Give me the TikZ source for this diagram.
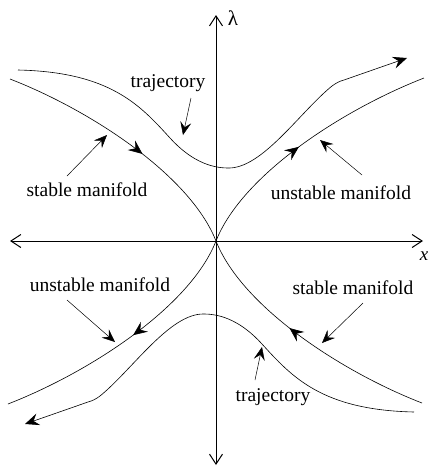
\documentclass[tikz,border=0pt]{standalone}
\usepackage{fontspec}
\setmainfont{Liberation Serif}
\usetikzlibrary{arrows.meta, calc, decorations.markings}

\begin{document}
\begin{tikzpicture}[
    x=1pt, y=-1pt,
    axis/.style={line width=0.8pt, {Straight Barb[length=10pt,width=13pt,line width=1pt]}-{Straight Barb[length=10pt,width=13pt,line width=1pt]}},
    curve/.style={line width=0.6pt},
    tip/.style={-{Stealth[length=14pt,width=12pt,inset=5pt]}},
    flow/.style={decoration={markings, mark=at position #1 with {\arrow{Stealth[length=14pt,width=12pt,inset=5pt]}}}, postaction={decorate}},
    tag/.style={font=\fontsize{19.5}{22}\selectfont, inner sep=0pt},
    pointer/.style={line width=0.5pt, -{Stealth[length=13pt,width=11pt,inset=5pt]}}
]
\useasboundingbox (0,0) rectangle (429,467);

% axes
\coordinate (O) at (216,241);
\coordinate (top) at (216,15);
\coordinate (bottom) at (216,465);
\coordinate (left) at (10,241);
\coordinate (right) at (423,241);
\draw[axis] (bottom) -- (top);
\draw[axis] (left) -- (right);
\node[font=\fontsize{21}{24}\selectfont, inner sep=0pt] (lam) at (233,18) {λ};
\node[font=\fontsize{19}{22}\selectfont\itshape, inner sep=0pt] (xlab) at (424,256) {x};

% manifolds
\draw[curve, flow=0.57] (10,79) .. controls (90,110) and (190,175) .. (O);
\draw[curve, flow=0.47] (O) .. controls (242,175) and (342,110) .. (424,78);
\draw[curve, flow=0.57] (422,403) .. controls (342,372) and (242,307) .. (O);
\draw[curve, flow=0.47] (O) .. controls (190,307) and (90,372) .. (8,404);

% trajectories
\draw[curve, tip] (18,70) .. controls (110,72) and (140,105) .. (170,138)
    .. controls (190,160) and (210,168) .. (228,168)
    .. controls (262,169) and (300,112) .. (332,86)
    .. controls (336,83) and (340,81) .. (344,80) -- (407,58);
\draw[curve, tip] (414,412) .. controls (322,410) and (292,377) .. (262,344)
    .. controls (242,322) and (222,314) .. (204,314)
    .. controls (170,313) and (132,370) .. (100,396)
    .. controls (96,399) and (92,401) .. (88,402) -- (25,424);

% labels
\node[tag] (trajU) at (168,83) {trajectory};
\node[tag] (stabU) at (87,190) {stable manifold};
\node[tag] (unstU) at (341,193) {unstable manifold};
\node[tag] (unstL) at (100,285) {unstable manifold};
\node[tag] (stabL) at (353,288) {stable manifold};
\node[tag] (trajL) at (273,397) {trajectory};

\coordinate (trajU-tip) at (183,135);
\coordinate (stabU-tip) at (107,135);
\coordinate (unstU-tip) at (320,140);
\coordinate (unstL-tip) at (115,342);
\coordinate (stabL-tip) at (322,343);
\coordinate (trajL-tip) at (262,347);

\draw[pointer] ($(trajU)+(23,15)$) -- (trajU-tip);
\draw[pointer] ($(stabU)+(-20,-14)$) -- (stabU-tip);
\draw[pointer] ($(unstU)+(21,-18)$) -- (unstU-tip);
\draw[pointer] ($(unstL)+(-33,15)$) -- (unstL-tip);
\draw[pointer] ($(stabL)+(10,15)$) -- (stabL-tip);
\draw[pointer] ($(trajL)+(-18,-17)$) -- (trajL-tip);
\end{tikzpicture}
\end{document}
